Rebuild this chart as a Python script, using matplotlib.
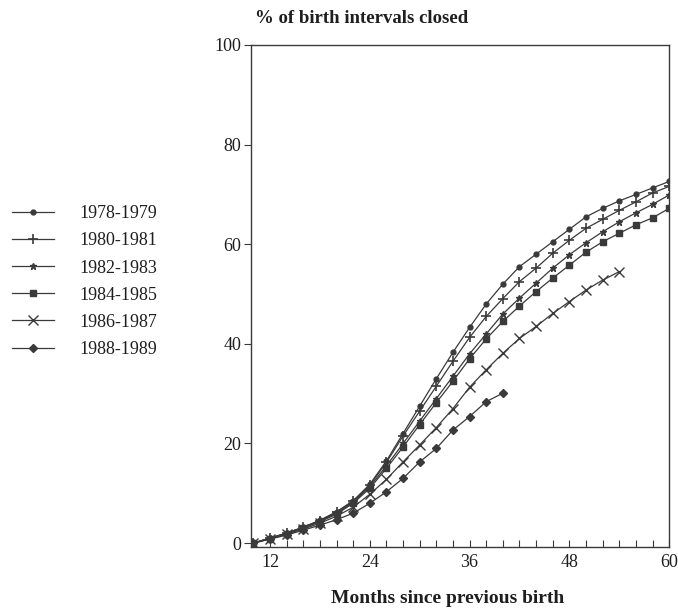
import matplotlib
matplotlib.use("Agg")
import matplotlib.pyplot as plt
import numpy as np

plt.rcParams['font.family'] = ['Liberation Serif', 'DejaVu Serif']

months_full = list(range(10, 62, 2))
months_8687 = list(range(10, 56, 2))
months_8889 = list(range(10, 42, 2))

labels = ["1978-1979", "1980-1981", "1982-1983", "1984-1985", "1986-1987", "1988-1989"]

v_7879 = [0, 1, 2, 3.2, 4.6, 6.3, 8.5, 11.8, 16.5, 22, 27.5, 33, 38.3, 43.3, 48, 52,
          55.5, 58, 60.5, 63, 65.5, 67.2, 68.7, 70, 71.3, 72.6]
v_8081 = [0, 1, 2, 3.2, 4.5, 6.2, 8.4, 11.6, 16.2, 21.5, 26.5, 31.5, 36.5, 41.3, 45.5, 49.1,
          52.5, 55.2, 58.2, 60.8, 63.2, 65, 66.8, 68.5, 70.3, 71.6]
v_8283 = [0, 1, 2, 3.1, 4.4, 6, 8.2, 11.3, 15.5, 20, 24.5, 29, 33.5, 38, 42, 46,
          49.2, 52.2, 55.2, 57.9, 60.3, 62.5, 64.5, 66.3, 68, 69.9]
v_8485 = [0, 0.9, 1.9, 3, 4.3, 5.8, 8, 11, 15, 19.3, 23.8, 28.2, 32.5, 37, 41, 44.5,
          47.6, 50.5, 53.2, 55.8, 58.4, 60.5, 62.2, 63.9, 65.3, 67.2]
v_8687 = [0, 0.9, 1.8, 2.8, 4, 5.4, 7.2, 9.8, 12.8, 16.3, 19.7, 23.2, 27, 31.3, 34.8, 38.1,
          41.1, 43.5, 46.1, 48.5, 50.8, 52.8, 54.5]
v_8889 = [0, 0.8, 1.6, 2.6, 3.6, 4.7, 6, 8, 10.3, 13, 16.3, 19, 22.7, 25.4, 28.4, 30.1]

xticks_major = [12, 24, 36, 48, 60]
yticks = [0, 20, 40, 60, 80, 100]

series = [
    (months_full, v_7879, dict(marker='o', ms=3.5)),
    (months_full, v_8081, dict(marker='+', ms=7, mew=1.2)),
    (months_full, v_8283, dict(marker='*', ms=5)),
    (months_full, v_8485, dict(marker='s', ms=5)),
    (months_8687, v_8687, dict(marker='x', ms=7, mew=1.0)),
    (months_8889, v_8889, dict(marker='D', ms=4.5)),
]

col = '#3a3a3a'
txt = '#1e1e1e'
fig = plt.figure(figsize=(6.78, 6.08), dpi=100)
ax = fig.add_axes([0.370, 0.101, 0.617, 0.825])

handles = []
for (x, y, st), lab in zip(series, labels):
    h, = ax.plot(x, y, color=col, lw=0.9, mfc=col, mec=col, label=lab, **st)
    handles.append(h)

ax.set_xlim(9.7, 60)
ax.set_ylim(-0.7, 100)
ax.set_yticks(yticks)
ax.set_xticks(xticks_major)
ax.set_xticks(list(range(12, 60, 2)), minor=True)
ax.tick_params(axis='x', which='major', direction='in', length=5, width=0.8,
               labelsize=13, colors=col, pad=5)
ax.tick_params(axis='x', which='minor', direction='in', length=5, width=0.8, colors=col)
ax.tick_params(axis='y', direction='out', length=5, width=0.8, labelsize=13, colors=col, pad=2)
for lbl in ax.get_xticklabels() + ax.get_yticklabels():
    lbl.set_color(txt)
for s in ax.spines.values():
    s.set_color(col)
    s.set_linewidth(1.0)

fig.text(0.376, 0.970, "% of birth intervals closed", fontsize=13.5, fontweight='bold',
         ha='left', va='center', color=txt)
fig.text(0.660, 0.016, "Months since previous birth", fontsize=14, fontweight='bold',
         ha='center', va='center', color=txt)

fig.legend(handles=handles, labels=labels, loc='upper left',
           bbox_to_anchor=(-0.006, 0.689), frameon=False, fontsize=13,
           handlelength=2.3, handletextpad=1.45, labelspacing=0.56,
           labelcolor=txt)

fig.savefig("out.png", dpi=100)
